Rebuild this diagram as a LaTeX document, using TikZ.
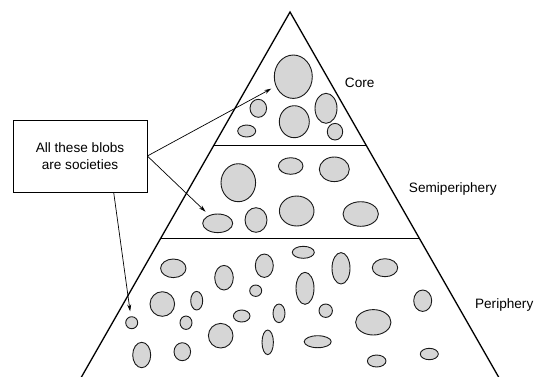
\documentclass[tikz,border=0pt]{standalone}
\usepackage{fontspec}
\setmainfont{Liberation Sans}
\usetikzlibrary{shapes.geometric,arrows.meta,calc}
\begin{document}
\begin{tikzpicture}[x=1pt,y=-1pt,
  lbl/.style={font=\fontsize{13.6}{17}\selectfont, inner sep=0pt},
  blob/.style={ellipse, draw=black!90, line width=0.9pt, fill=black!16, inner sep=0pt},
  edge/.style={line width=1.3pt},
  divider/.style={line width=0.7pt},
  callout/.style={draw, line width=0.7pt, minimum width=134pt, minimum height=72pt, align=center,
     font=\fontsize{13.6}{17}\selectfont},
  pointer/.style={line width=0.7pt, -{Stealth[length=7pt,width=4pt]}, shorten >=5pt}]
\useasboundingbox (0,0) rectangle (534,376);
\clip (0,0) rectangle (534,376);
\newcommand{\blobat}[5]{\node[blob, minimum width=#4pt, minimum height=#5pt] (#1) at (#2,#3) {};}
% triangle
\coordinate (apex) at (290,12);
\coordinate (bl) at (78,383);
\coordinate (br) at (502,383);
\draw[edge] (bl) -- (apex) -- (br);
\coordinate (d1l) at ($(apex)!{133/371}!(bl)$);
\coordinate (d1r) at ($(apex)!{133/371}!(br)$);
\coordinate (d2l) at ($(apex)!{226/371}!(bl)$);
\coordinate (d2r) at ($(apex)!{226/371}!(br)$);
\draw[divider] (d1l) -- (d1r);
\draw[divider] (d2l) -- (d2r);
% labels
\node[lbl] (core) at (359.7,83.3) {Core};
\node[lbl] (semi) at (452.8,189.3) {Semiperiphery};
\node[lbl] (peri) at (504.2,305) {Periphery};
% core blobs
\blobat{c1}{293.3}{76.7}{38}{43.4}
\blobat{c2}{258.3}{108.3}{16.6}{18}
\blobat{c3}{294.3}{121.7}{30}{32}
\blobat{c4}{326}{108.3}{22}{30}
\blobat{c5}{246.7}{131}{18}{12}
\blobat{c6}{335}{131.7}{15.4}{16.6}
% semiperiphery blobs
\blobat{s1}{238.3}{182.7}{34.6}{38}
\blobat{s2}{290.7}{166}{24.6}{16.6}
\blobat{s3}{334.3}{169.3}{30}{24.6}
\blobat{s4}{217.7}{223.3}{30}{18.6}
\blobat{s5}{256}{220}{22}{24.6}
\blobat{s6}{296.7}{211}{34.6}{30}
\blobat{s7}{360.7}{214}{35.4}{24.6}
% periphery blobs
\blobat{p1}{173.3}{268.3}{25.4}{18.6}
\blobat{p2}{224}{277.7}{18.6}{24.6}
\blobat{p3}{264.3}{265.7}{18}{23.4}
\blobat{p4}{303.3}{252.3}{22}{12}
\blobat{p5}{162.3}{304}{24.6}{24.6}
\blobat{p6}{196.7}{300.7}{12}{18.6}
\blobat{p7}{255.7}{290.7}{12}{11.4}
\blobat{p8}{305}{288.3}{18}{32}
\blobat{p9}{131.7}{322.7}{12}{12}
\blobat{p10}{186}{322.7}{12}{13.4}
\blobat{p11}{241.7}{316}{16.6}{12}
\blobat{p12}{279}{313.3}{12}{18.6}
\blobat{p13}{220.7}{335.7}{24.6}{24.6}
\blobat{p14}{141.7}{355}{18}{25.4}
\blobat{p15}{182.3}{351.7}{16.6}{18}
\blobat{p16}{267.7}{342.3}{11.4}{24.6}
\blobat{p17}{317.7}{341.7}{27}{12}
\blobat{p18}{325.7}{310.7}{13.4}{13.4}
\blobat{p19}{341}{268.3}{18}{31.4}
\blobat{p20}{385}{267.7}{25.4}{18}
\blobat{p21}{373.3}{322.3}{35.4}{25.4}
\blobat{p22}{422.7}{300.7}{18}{21.4}
\blobat{p23}{376.7}{361}{18.6}{12}
\blobat{p24}{429.3}{354}{18}{11.4}
% callout box
\node[callout] (box) at (80,156) {All these blobs\\are societies};
\coordinate (boxfoot) at ($(box.south west)!0.75!(box.south east)$);
\draw[pointer] (box.east) -- (c1);
\draw[pointer] (box.east) -- (s4);
\draw[pointer] (boxfoot) -- (p9);
\end{tikzpicture}
\end{document}
